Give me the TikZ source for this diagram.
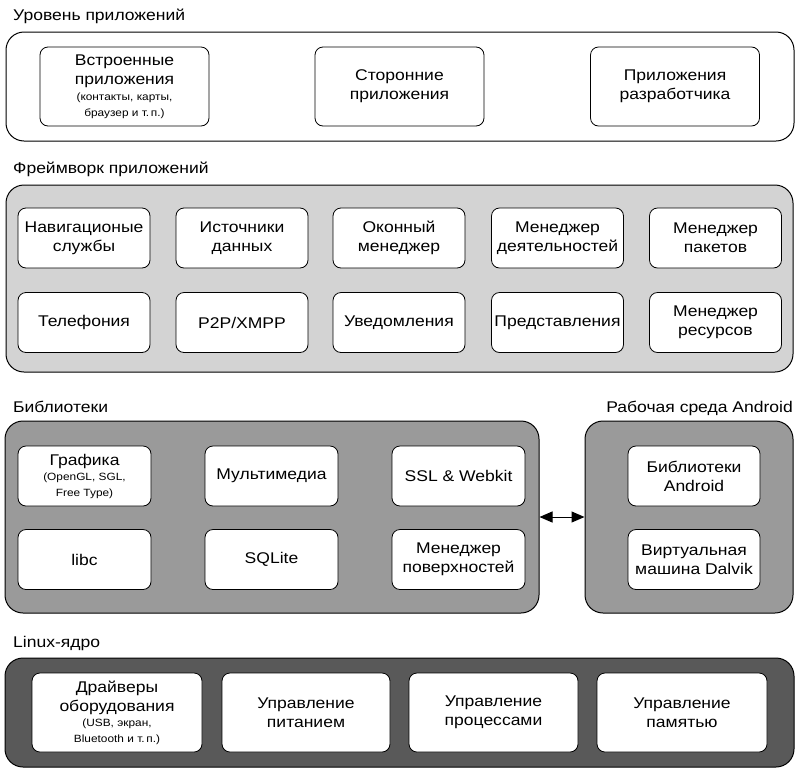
\documentclass[tikz,border=0pt]{standalone}
\usepackage{fontspec}
\setmainfont[FakeStretch=1.13]{Liberation Sans}
\usetikzlibrary{arrows.meta}
\newcommand{\smalltxt}{\fontsize{10.5}{15}\selectfont}
\begin{document}
\begin{tikzpicture}[x=1pt,y=-1pt,
  outerbox/.style={draw, line width=1pt, rounded corners=18pt},
  inbox/.style={draw, fill=white, line width=0.8pt, rounded corners=8pt, align=center,
     inner sep=0pt, font=\fontsize{15.5}{19}\selectfont},
  layerlabel/.style={font=\fontsize{15.5}{19}\selectfont, inner sep=0pt},
]
\useasboundingbox (0,0) rectangle (800,774);
\definecolor{fwgray}{HTML}{D3D3D3}
\definecolor{libgray}{HTML}{9A9A9A}
\definecolor{kerngray}{HTML}{595959}

% Application layer
\node[layerlabel, anchor=base west] (lapp) at (13,20) {Уровень приложений};
\draw[outerbox, fill=white] (6,32) rectangle (794,141);
\node[inbox, minimum width=169pt, minimum height=79pt] (a1) at (124.5,86.5)
  {Встроенные\\приложения\\[-3pt]{\smalltxt (контакты, карты,}\\[-3pt]{\smalltxt браузер и т.\,п.)}};
\node[inbox, minimum width=169pt, minimum height=79pt] (a2) at (399.5,86.5) {Сторонние\\приложения};
\node[inbox, minimum width=169pt, minimum height=79pt] (a3) at (675,86.5) {Приложения\\разработчика};

% Framework
\node[layerlabel, anchor=base west] (lfw) at (13,173) {Фреймворк приложений};
\draw[outerbox, fill=fwgray] (6,185) rectangle (793,372);
\foreach \n/\x/\y/\t in {f1/84/238/{Навигационые\\службы}, f2/242/238/{Источники\\данных},
   f3/399/238/{Оконный\\менеджер}, f4/557.5/238/{Менеджер\\деятельностей}, f5/715.5/238/{Менеджер\\пакетов},
   f6/84/322.5/{Телефония}, f7/242/322.5/{P2P/XMPP}, f8/399/322.5/{Уведомления},
   f9/557.5/322.5/{Представления}, f10/715.5/322.5/{Менеджер\\ресурсов}}
  \node[inbox, minimum width=132pt, minimum height=60pt] (\n) at (\x,\y) {\t};

% Libraries
\node[layerlabel, anchor=base west] (llib) at (13,412) {Библиотеки};
\node[outerbox, fill=libgray, minimum width=534pt, minimum height=192pt, inner sep=0pt] (lib) at (272,517) {};
\node[inbox, minimum width=133pt, minimum height=60pt] (l1) at (84.5,476)
  {Графика\\[-4pt]{\smalltxt (OpenGL, SGL,}\\[-3pt]{\smalltxt Free Type)}};
\node[inbox, minimum width=133pt, minimum height=60pt] (l2) at (271.5,476) {Мультимедиа};
\node[inbox, minimum width=133pt, minimum height=60pt] (l3) at (458.5,476) {SSL \& Webkit};
\node[inbox, minimum width=133pt, minimum height=60pt] (l4) at (84.5,559.5) {libc};
\node[inbox, minimum width=133pt, minimum height=60pt] (l5) at (271.5,559.5) {SQLite};
\node[inbox, minimum width=133pt, minimum height=60pt] (l6) at (458.5,559.5) {Менеджер\\поверхностей};

% Android runtime
\node[layerlabel, anchor=base east] (lrt) at (793,412) {Рабочая среда Android};
\node[outerbox, fill=libgray, minimum width=208pt, minimum height=192pt, inner sep=0pt] (rt) at (689,517) {};
\node[inbox, minimum width=132pt, minimum height=60pt] (r1) at (694,476) {Библиотеки\\Android};
\node[inbox, minimum width=132pt, minimum height=60pt] (r2) at (694,559.5) {Виртуальная\\машина Dalvik};

\draw[line width=1pt, {Triangle[length=13pt,width=11pt]}-{Triangle[length=13pt,width=11pt]}] (lib.east) -- (rt.west);

% Kernel
\node[layerlabel, anchor=base west] (lk) at (13,647) {Linux-ядро};
\draw[outerbox, fill=kerngray] (5,658) rectangle (794,767);
\node[inbox, minimum width=170pt, minimum height=79pt] (k1) at (117,712.5)
  {Драйверы\\оборудования\\[-4pt]{\smalltxt (USB, экран,}\\[-3pt]{\smalltxt Bluetooth и т.\,п.)}};
\node[inbox, minimum width=168pt, minimum height=79pt] (k2) at (306,712.5) {Управление\\питанием};
\node[inbox, minimum width=169pt, minimum height=79pt] (k3) at (493.5,712.5) {Управление\\процессами};
\node[inbox, minimum width=170pt, minimum height=79pt] (k4) at (682,712.5) {Управление\\памятью};
\end{tikzpicture}
\end{document}
